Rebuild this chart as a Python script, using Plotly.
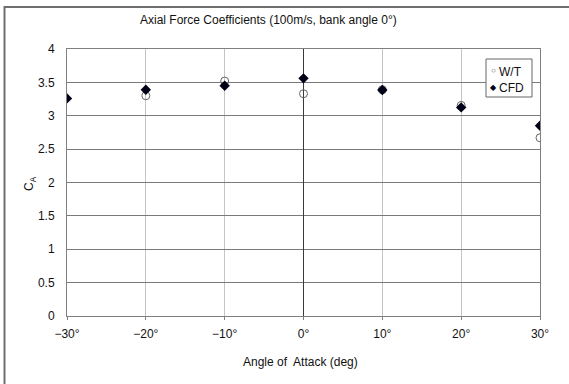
import plotly.graph_objects as go

# Angle of attack (deg) and axial force coefficient C_A
angles = [-30, -20, -10, 0, 10, 20, 30]
ca_wind_tunnel = [None, 3.30, 3.52, 3.33, 3.39, 3.155, 2.67]
ca_cfd = [3.26, 3.39, 3.45, 3.56, 3.385, 3.125, 2.85]

x_tick_vals = [-30, -20, -10, 0, 10, 20, 30]
x_tick_text = ["\u221230\u00b0", "\u221220\u00b0", "\u221210\u00b0", "0\u00b0", "10\u00b0", "20\u00b0", "30\u00b0"]
y_tick_vals = [0, 0.5, 1, 1.5, 2, 2.5, 3, 3.5, 4]
y_tick_text = ["0", "0.5", "1", "1.5", "2", "2.5", "3", "3.5", "4"]

FONT = "Liberation Sans, Arial, sans-serif"
W, H = 569, 384
L, R, T, B = 67, 29, 49, 68
PW, PH = W - L - R, H - T - B


def px_x(px):
    return (px - L) / PW


def px_y(py):
    return (H - B - py) / PH


fig = go.Figure()

fig.add_trace(go.Scatter(
    x=angles, y=ca_wind_tunnel, mode="markers", name="W/T",
    marker=dict(symbol="circle-open", size=8, color="#666666", line=dict(width=1, color="#666666")),
    showlegend=False,
))
fig.add_trace(go.Scatter(
    x=angles, y=ca_cfd, mode="markers", name="CFD",
    marker=dict(symbol="diamond", size=8, color="#000018"),
    showlegend=False,
))

shapes = [
    # outer chart frame
    dict(type="rect", xref="paper", yref="paper",
         x0=px_x(4.5), x1=px_x(620), y0=px_y(7), y1=px_y(450),
         line=dict(color="#6e6e6e", width=2), fillcolor="rgba(0,0,0,0)", layer="below"),
    # legend box
    dict(type="rect", xref="paper", yref="paper",
         x0=px_x(486), x1=px_x(532), y0=px_y(97), y1=px_y(59),
         line=dict(color="#666666", width=1), fillcolor="white", layer="above"),
]

annotations = [
    dict(text="Axial Force Coefficients (100m/s, bank angle 0\u00b0)", xref="paper", yref="paper",
         x=px_x(268), y=px_y(20), xanchor="center", yanchor="middle", showarrow=False,
         font=dict(family=FONT, size=12, color="#111111")),
    dict(text="Angle of  Attack (deg)", xref="paper", yref="paper",
         x=px_x(300), y=px_y(362), xanchor="center", yanchor="middle", showarrow=False,
         font=dict(family=FONT, size=12, color="#111111")),
    dict(text="C<sub>A</sub>", xref="paper", yref="paper", textangle=-90,
         x=px_x(30), y=px_y(184), xanchor="center", yanchor="middle", showarrow=False,
         font=dict(family=FONT, size=12, color="#111111")),
    # legend entries
    dict(text="\u25cb", xref="paper", yref="paper", x=px_x(493), y=px_y(70),
         xanchor="center", yanchor="middle", showarrow=False,
         font=dict(family=FONT, size=8, color="#555555")),
    dict(text="W/T", xref="paper", yref="paper", x=px_x(497), y=px_y(72),
         xanchor="left", yanchor="middle", showarrow=False,
         font=dict(family=FONT, size=12, color="#111111")),
    dict(text="\u25c6", xref="paper", yref="paper", x=px_x(493), y=px_y(87),
         xanchor="center", yanchor="middle", showarrow=False,
         font=dict(family=FONT, size=8, color="#000018")),
    dict(text="CFD", xref="paper", yref="paper", x=px_x(497), y=px_y(88),
         xanchor="left", yanchor="middle", showarrow=False,
         font=dict(family=FONT, size=12, color="#111111")),
]

fig.update_layout(
    width=W, height=H,
    margin=dict(l=L, r=R, t=T, b=B, pad=0),
    paper_bgcolor="white", plot_bgcolor="white",
    font=dict(family=FONT, size=12, color="#111111"),
    shapes=shapes, annotations=annotations,
    showlegend=False,
)

fig.update_xaxes(
    range=[-30, 30], tickvals=x_tick_vals, ticktext=x_tick_text,
    showgrid=True, gridcolor="#c4c4c4", gridwidth=1,
    zeroline=True, zerolinecolor="#3a3a3a", zerolinewidth=1,
    showline=True, linecolor="#808080", linewidth=1, mirror=True,
    ticks="outside", ticklen=3, tickcolor="#808080", ticklabelstandoff=4,
    tickfont=dict(family=FONT, size=12, color="#111111"),
)
fig.update_yaxes(
    range=[0, 4], tickvals=y_tick_vals, ticktext=y_tick_text,
    showgrid=True, gridcolor="#7a7a7a", gridwidth=1,
    zeroline=False,
    showline=True, linecolor="#808080", linewidth=1, mirror=True,
    ticks="", ticklabelstandoff=9,
    tickfont=dict(family=FONT, size=12, color="#111111"),
)

fig.write_html("out.html")
